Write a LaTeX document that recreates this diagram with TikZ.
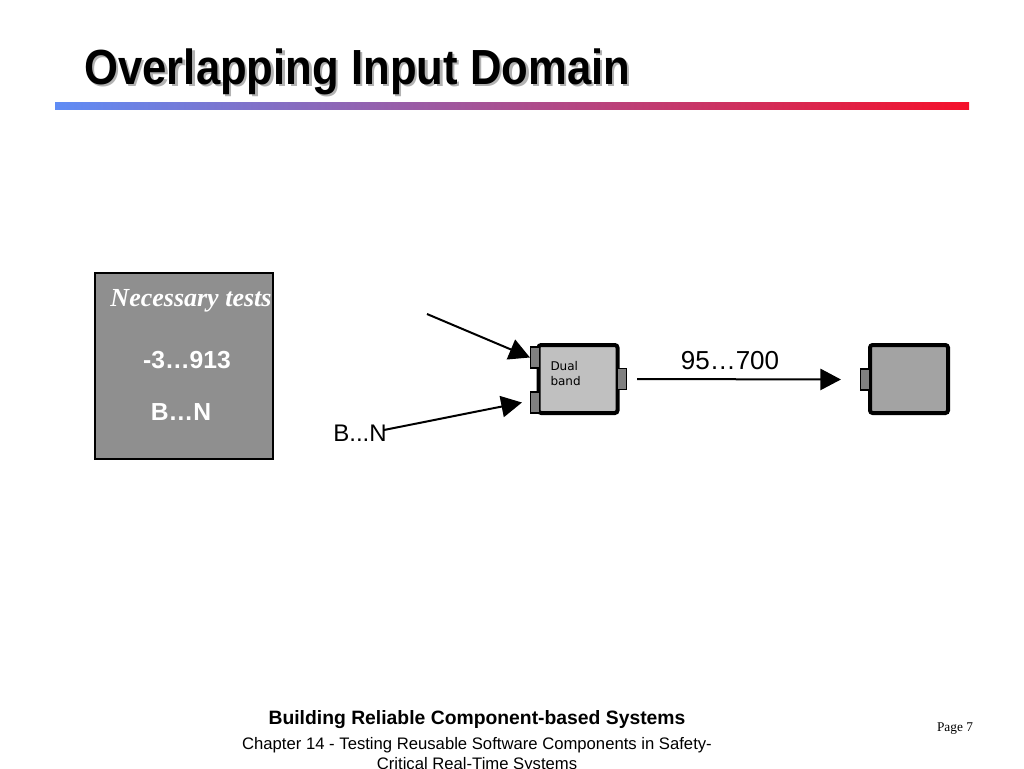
\documentclass[tikz,border=0pt]{standalone}
\usepackage{fontspec}
\setmainfont{Liberation Sans}
\newfontfamily\timesfont{Liberation Serif}
\newfontfamily\verdfont{DejaVu Sans}
\usetikzlibrary{arrows.meta}
\definecolor{boxgray}{RGB}{143,143,143}
\definecolor{dualfill}{RGB}{192,192,192}
\definecolor{portfill}{RGB}{128,128,128}
\definecolor{sinkfill}{RGB}{163,163,163}
\definecolor{barblue}{RGB}{95,140,245}
\definecolor{barmid}{RGB}{175,105,205}
\definecolor{barred}{RGB}{245,16,42}
\tikzset{
	body/.style={draw, line width=3pt, rounded corners=2pt, inner sep=0pt},
	port/.style={draw, line width=0.8pt, fill=portfill, inner sep=0pt, minimum width=6.75pt, minimum height=15.75pt},
	flow/.style={line width=1.5pt, -{Triangle[length=15.5pt, width=16pt]}},
	whitetxt/.style={text=white, font=\fontsize{18.5}{22}\selectfont\bfseries}}
\tikzset{every picture/.style={line width=0.75pt}}
\begin{document}
\begin{tikzpicture}[x=0.75pt,y=0.75pt,yscale=-1,xscale=1]
	\useasboundingbox (0,0) rectangle (1024,768);

	% Title
	\draw (82.5,86.5) node [anchor=base west, xscale=0.885, text=black!30, font=\fontsize{37}{42}\selectfont\bfseries] {Overlapping Input Domain};
	\draw (80,84) node (title) [anchor=base west, xscale=0.885, font=\fontsize{37}{42}\selectfont\bfseries] {Overlapping Input Domain};
	%Shape: Bar
	\shade [left color=barblue, middle color=barmid, right color=barred] (55,102) rectangle (969,109);

	%Shape: Rectangle (tests)
	\node (tests) [draw, line width=1.1pt, fill=boxgray, minimum width=133.5pt, minimum height=139.5pt, inner sep=0pt] at (184,366) {};
	% Text Node
	\draw (191,306) node (nec) [anchor=base, text=white, font=\timesfont\fontsize{19.5}{22}\selectfont\bfseries\itshape] {Necessary tests};
	% Text Node
	\draw (187,368) node (range) [anchor=base, whitetxt] {-3\ldots913};
	% Text Node
	\draw (181,420) node (letters) [anchor=base, whitetxt] {B\ldots N};

	%Shape: Dual band block
	\node (dual) [body, fill=dualfill, minimum width=59.25pt, minimum height=51pt] at (578,379) {};
	\node (dualinA) [port, anchor=east] at (540,357.5) {};
	\node (dualinB) [port, anchor=east] at (540,402.5) {};
	\node (dualout) [port, anchor=west] at (617,379) {};
	\draw (550,361) node (dualtxt) [anchor=north west, align=left, inner sep=0pt, font=\verdfont\fontsize{9}{11.5}\selectfont] {Dual\\band};

	%Shape: Sink block
	\node (sink) [body, fill=sinkfill, minimum width=58.5pt, minimum height=51pt] at (909,379) {};
	\node (sinkin) [port, anchor=east] at (870,379.5) {};

	% Text Node
	\draw (360,441) node (bn) [anchor=base, font=\fontsize{18}{22}\selectfont] {B...N};
	% Text Node
	\draw (730,369) node (band) [anchor=base, font=\fontsize{19.5}{22}\selectfont] {95\ldots700};

	%Straight Lines
	\coordinate (srcA) at (427,314);
	\draw [flow] (srcA) -- (dualinA.west);
	\draw [flow] ([xshift=-6pt,yshift=-2pt]bn.east) -- ([xshift=-6pt]dualinB.west);
	\draw [flow] ([xshift=7.5pt]dualout.east) -- ([xshift=-14.25pt]sinkin.west);

	% Footer
	\draw (477,724) node (book) [anchor=base, font=\fontsize{14.5}{17}\selectfont\bfseries] {Building Reliable Component-based Systems};
	\draw (477,749) node (chap) [anchor=base, font=\fontsize{12.5}{15}\selectfont] {Chapter 14 - Testing Reusable Software Components in Safety-};
	\draw (477,769) node (chapb) [anchor=base, font=\fontsize{12.5}{15}\selectfont] {Critical Real-Time Systems};
	\draw (955,731) node (page) [anchor=base, font=\timesfont\fontsize{10}{12}\selectfont] {Page 7};

\end{tikzpicture}
\end{document}
